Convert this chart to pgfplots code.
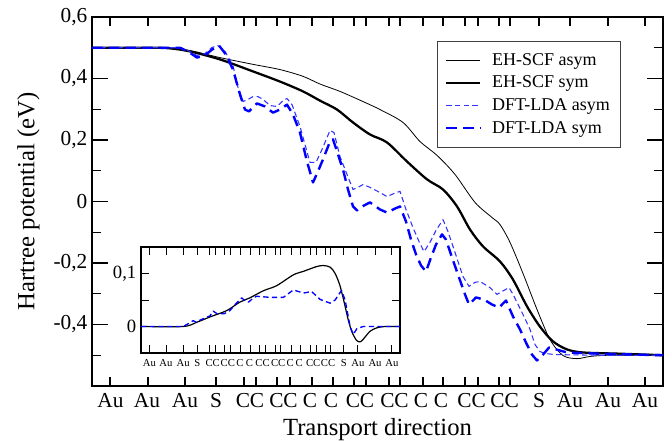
\documentclass[border=0pt]{standalone}
\usepackage{fontspec}
\setmainfont{Liberation Serif}
\usepackage{pgfplots}
\usepackage{pgfplotstable}
\pgfplotsset{compat=1.18}

\pgfplotstableread{
x y
92 0.500
150 0.500
170 0.498
190 0.491
220 0.468
253 0.446
280 0.429
303 0.407
320 0.382
340 0.358
363 0.325
380 0.299
403 0.257
420 0.195
437 0.150
455 0.088
475 -0.003
492 -0.052
500 -0.075
510 -0.133
523 -0.234
537 -0.351
550 -0.449
563 -0.501
577 -0.511
590 -0.504
610 -0.500
663 -0.500
}\ehasym

\pgfplotstableread{
x y
92 0.500
150 0.500
170 0.498
190 0.488
220 0.462
253 0.423
280 0.390
303 0.358
320 0.328
337 0.299
353 0.257
370 0.218
387 0.192
407 0.130
427 0.072
443 0.039
457 -0.016
470 -0.091
483 -0.146
500 -0.195
513 -0.254
527 -0.341
540 -0.407
553 -0.455
567 -0.481
583 -0.491
620 -0.495
663 -0.500
}\ehsym

\pgfplotstableread{
x y
92 0.500
180 0.500
188 0.491
197 0.475
205 0.481
212 0.501
218 0.507
225 0.488
233 0.442
238 0.371
243 0.325
248 0.332
253 0.341
258 0.341
263 0.332
270 0.312
277 0.309
283 0.328
287 0.335
292 0.315
300 0.244
305 0.185
310 0.127
316 0.127
322 0.169
330 0.231
334 0.224
340 0.146
347 0.088
353 0.039
358 0.046
363 0.055
370 0.046
380 0.029
387 0.016
394 0.026
400 0.033
406 -0.026
413 -0.085
419 -0.130
424 -0.163
430 -0.133
436 -0.094
443 -0.059
448 -0.098
453 -0.146
458 -0.195
463 -0.244
469 -0.276
475 -0.263
480 -0.260
490 -0.280
497 -0.302
504 -0.289
509 -0.280
513 -0.302
517 -0.328
524 -0.374
530 -0.416
535 -0.465
540 -0.488
545 -0.494
555 -0.498
600 -0.500
663 -0.500
}\dftasym

\pgfplotstableread{
x y
92 0.500
180 0.500
188 0.488
197 0.468
205 0.475
212 0.494
219 0.507
226 0.478
233 0.429
240 0.348
245 0.299
249 0.293
257 0.319
265 0.309
273 0.289
280 0.299
287 0.315
293 0.283
300 0.224
307 0.130
313 0.062
318 0.098
323 0.137
330 0.195
333 0.202
338 0.153
343 0.104
348 0.039
353 -0.016
357 -0.029
364 -0.013
370 -0.003
380 -0.026
387 -0.036
395 -0.023
400 -0.016
406 -0.065
411 -0.124
416 -0.172
421 -0.208
426 -0.228
431 -0.182
436 -0.140
442 -0.107
446 -0.124
452 -0.182
459 -0.247
465 -0.302
469 -0.335
476 -0.312
484 -0.319
492 -0.335
499 -0.345
506 -0.322
513 -0.374
520 -0.416
526 -0.459
532 -0.498
537 -0.517
543 -0.498
549 -0.475
556 -0.481
567 -0.491
600 -0.495
663 -0.500
}\dftsym

\pgfplotstableread{
x y
92 0.000
185 0.000
215 0.008
244 0.018
281 0.030
310 0.046
332 0.054
362 0.0675
391 0.077
428 0.0975
450 0.104
479 0.113
494 0.115
509 0.112
520 0.100
531 0.076
542 0.038
549 0.012
557 -0.010
567 -0.026
575 -0.029
582 -0.024
597 -0.009
612 -0.0025
630 0.000
663 0.000
}\insetEH

\pgfplotstableread{
x y
92 0.000
185 0.000
200 0.007
207 0.011
214 0.008
222 0.012
244 0.020
251 0.029
260 0.024
275 0.024
288 0.030
300 0.042
314 0.054
322 0.048
329 0.046
340 0.054
347 0.057
376 0.055
406 0.055
428 0.069
450 0.063
468 0.066
487 0.051
509 0.044
520 0.050
534 0.068
542 0.050
553 0.000
560 -0.015
568 -0.004
582 0.000
663 0.000
}\insetDFT

\begin{document}
\begin{tikzpicture}
\useasboundingbox (-69pt,-41.25pt) rectangle (435pt,289.5pt);
\begin{axis}[
  at={(0pt,0pt)}, anchor=south west,
  width=428.25pt, height=276.75pt, scale only axis,
  xmin=92, xmax=663, ymin=-0.6, ymax=0.6,
  axis line style={line width=1pt},
  /pgf/number format/assume math mode=true,
  /pgf/number format/use comma,
  ytick={-0.4,-0.2,0,0.2,0.4,0.6},
  minor ytick={-0.5,-0.3,-0.1,0.1,0.3,0.5},
  xtick={110.5,147,185,216,250,283.5,310,331,360,394.5,421,441,471.5,504.5,539,570,608,645},
  xticklabels={Au,Au,Au,S,CC,CC,C,C,CC,CC,C,C,CC,CC,S,Au,Au,Au},
  minor xtick={110,148,185,216,244,256,277,290,312,333,354,366,389,400,423,443,465,478,499,510,539,570,608,645},
  major x tick style={draw=none},
  major tick length=12pt, minor tick length=6.75pt,
  tick style={black, line width=0.8pt},
  tick align=inside,
  yticklabel style={font=\fontsize{16}{16}\selectfont},
  xticklabel style={font=\fontsize{16}{16}\selectfont, yshift=-2pt},
  every axis y label/.style={at={(axis description cs:-0.1114,0.5)}, anchor=center, rotate=90, font=\fontsize{18.5}{20}\selectfont},
  every axis x label/.style={at={(axis description cs:0.5,-0.1176)}, anchor=center, font=\fontsize{18.5}{20}\selectfont},
  ylabel={Hartree potential (eV)},
  xlabel={Transport direction},
  legend style={at={(0.9265,0.935)}, anchor=north east, draw=black!75, line width=0.7pt,
    font=\fontsize{13.5}{15}\selectfont, cells={anchor=west}, row sep=2.5pt,
    inner xsep=6pt, inner ysep=7pt,
    /tikz/every odd column/.append style={column sep=6pt}},
  legend image code/.code={\draw[#1] (0pt,0pt) -- (25.5pt,0pt);},
]
\addplot[black, line width=0.6pt, smooth, tension=0.5] table {\ehasym};
\addlegendentry{EH-SCF asym}
\addplot[black, line width=1.7pt, smooth, tension=0.5] table {\ehsym};
\addlegendentry{EH-SCF sym}
\addplot[blue!80, line width=0.8pt, dash pattern=on 4pt off 2.5pt, line join=round] table {\dftasym};
\addlegendentry{DFT-LDA asym}
\addplot[blue, line width=1.8pt, dash pattern=on 8pt off 4.5pt, line join=round] table {\dftsym};
\addlegendentry{DFT-LDA sym}
\end{axis}

\begin{axis}[
  at={(36.75pt,24.75pt)}, anchor=south west,
  width=194.25pt, height=79.5pt, scale only axis,
  axis background/.style={fill=white},
  xmin=92, xmax=663, ymin=-0.05, ymax=0.15,
  axis line style={line width=0.8pt},
  /pgf/number format/assume math mode=true,
  /pgf/number format/use comma,
  ytick={0,0.1},
  minor ytick={0.05},
  xtick={110.5,147,185,216,250,283.5,310,331,360,394.5,421,441,471.5,504.5,539,570,608,645},
  xticklabels={Au,Au,Au,S,CC,CC,C,C,CC,CC,C,C,CC,CC,S,Au,Au,Au},
  minor xtick={110,148,185,216,244,256,277,290,312,333,354,366,389,400,423,443,465,478,499,510,539,570,608,645},
  major x tick style={draw=none},
  major tick length=6pt, minor tick length=6pt,
  tick style={black, line width=0.7pt},
  tick align=inside,
  yticklabel style={font=\fontsize{14}{14}\selectfont},
  xticklabel style={font=\fontsize{8}{8}\selectfont, yshift=-1pt},
]
\addplot[black, line width=0.9pt, smooth, tension=0.5] table {\insetEH};
\addplot[blue, line width=1pt, dash pattern=on 4pt off 2.5pt, line join=round] table {\insetDFT};
\end{axis}
\end{tikzpicture}
\end{document}
